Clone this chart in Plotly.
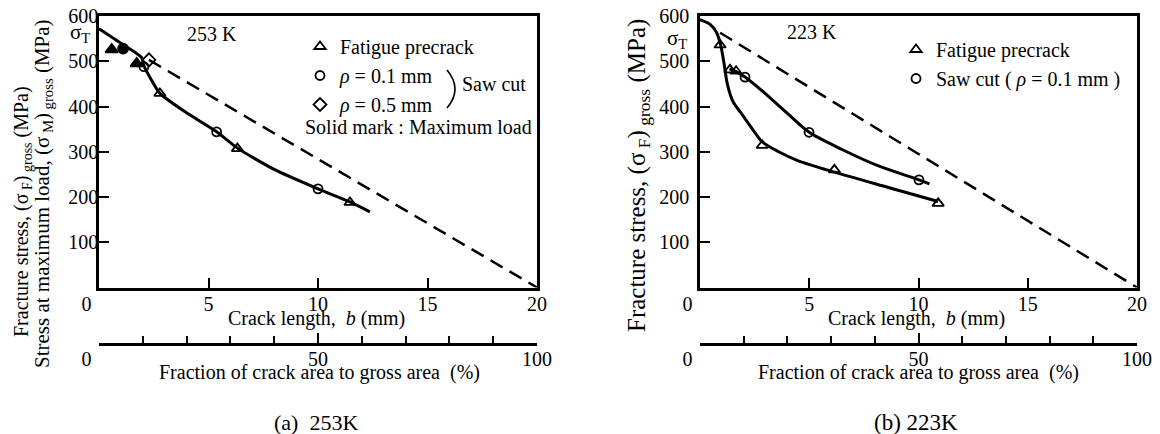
import plotly.graph_objects as go

W, H = 1160, 434
FONT = "Liberation Serif, Times New Roman, serif"

# ---------------- data: (a) 253 K ----------------
a_tri_x = [2.78, 6.32, 11.46]
a_tri_y = [429, 307, 188]
a_cir_x = [2.05, 5.37, 10.0]
a_cir_y = [488, 344, 218]
a_dia_x = [2.28]
a_dia_y = [503]
a_tri_max_x = [0.58, 1.72]
a_tri_max_y = [526, 495]
a_cir_max_x = [1.1]
a_cir_max_y = [528]
a_curve_x = [0, 1.0, 1.95, 2.05, 2.4, 2.78, 4.0, 5.37, 6.32, 8.0, 10.0, 11.46, 12.37]
a_curve_y = [572, 540, 508, 490, 458, 429, 386, 344, 308, 261, 218, 189, 167]
a_dash_x = [2.28, 20]
a_dash_y = [503, 0]
a_sigma_T = 572

# ---------------- data: (b) 223 K ----------------
b_tri_x = [0.92, 1.37, 1.65, 2.85, 6.15, 10.9]
b_tri_y = [536, 481, 478, 314, 260, 186]
b_cir_x = [2.06, 4.99, 10.02]
b_cir_y = [465, 343, 238]
b_fat_x = [0, 0.45, 0.75, 0.95, 1.1, 1.25, 1.5, 1.9, 2.4, 2.85, 3.6, 4.5, 6.15, 8.7, 10.9]
b_fat_y = [592, 582, 564, 535, 495, 450, 412, 384, 350, 322, 300, 280, 255, 220, 190]
b_saw_x = [1.35, 1.65, 2.06, 3.0, 4.0, 5.0, 6.5, 8.2, 10.02, 10.5]
b_saw_y = [483, 477, 465, 428, 385, 343, 305, 268, 238, 229]
b_dash_x = [0.92, 20]
b_dash_y = [563, 0]
b_sigma_T = 592

# ---------------- axes values / labels ----------------
crack_ticks = [0, 5, 10, 15, 20]
crack_text = ["0" + "\u00a0" * 5, "5", "10", "15", "20"]
frac_major = [0, 50, 100]
frac_text = ["0" + "\u00a0" * 5, "50", "100"]
stress_ticks = [100, 200, 300, 400, 500, 600]

legend_a = ["Fatigue precrack", "<i>ρ</i> = 0.1 mm", "<i>ρ</i> = 0.5 mm"]
legend_b = ["Fatigue precrack", "Saw cut ( <i>ρ</i> = 0.1 mm )"]


def px(x):
    return x / W


def py(y):
    return 1 - y / H


fig = go.Figure()

LW = 3
MK = dict(size=10, color="black", line=dict(width=1.8, color="black"))


def marker(symbol, size=10):
    d = dict(MK)
    d["symbol"] = symbol
    d["size"] = size
    return d


# ---- panel a ----
fig.add_trace(go.Scatter(x=a_dash_x, y=a_dash_y, mode="lines", xaxis="x", yaxis="y",
                         line=dict(color="black", width=2.5, dash="14px,8px"), showlegend=False))
fig.add_trace(go.Scatter(x=a_curve_x, y=a_curve_y, mode="lines", xaxis="x", yaxis="y",
                         line=dict(color="black", width=LW, shape="spline", smoothing=0.6),
                         showlegend=False))
fig.add_trace(go.Scatter(x=a_tri_x, y=a_tri_y, mode="markers", xaxis="x", yaxis="y",
                         marker=marker("triangle-up-open"), name=legend_a[0], legend="legend"))
fig.add_trace(go.Scatter(x=a_cir_x, y=a_cir_y, mode="markers", xaxis="x", yaxis="y",
                         marker=marker("circle-open", 9), name=legend_a[1], legend="legend"))
fig.add_trace(go.Scatter(x=a_dia_x, y=a_dia_y, mode="markers", xaxis="x", yaxis="y",
                         marker=marker("diamond-open", 10), name=legend_a[2], legend="legend"))
fig.add_trace(go.Scatter(x=a_tri_max_x, y=a_tri_max_y, mode="markers", xaxis="x", yaxis="y",
                         marker=marker("triangle-up", 11), showlegend=False))
fig.add_trace(go.Scatter(x=a_cir_max_x, y=a_cir_max_y, mode="markers", xaxis="x", yaxis="y",
                         marker=marker("circle", 10), showlegend=False))

# ---- panel b ----
fig.add_trace(go.Scatter(x=b_dash_x, y=b_dash_y, mode="lines", xaxis="x2", yaxis="y2",
                         line=dict(color="black", width=2.5, dash="14px,8px"), showlegend=False))
fig.add_trace(go.Scatter(x=b_fat_x, y=b_fat_y, mode="lines", xaxis="x2", yaxis="y2",
                         line=dict(color="black", width=LW, shape="spline", smoothing=0.8),
                         showlegend=False))
fig.add_trace(go.Scatter(x=b_saw_x, y=b_saw_y, mode="lines", xaxis="x2", yaxis="y2",
                         line=dict(color="black", width=LW, shape="spline", smoothing=0.8),
                         showlegend=False))
fig.add_trace(go.Scatter(x=b_tri_x, y=b_tri_y, mode="markers", xaxis="x2", yaxis="y2",
                         marker=marker("triangle-up-open"), name=legend_b[0], legend="legend2"))
fig.add_trace(go.Scatter(x=b_cir_x, y=b_cir_y, mode="markers", xaxis="x2", yaxis="y2",
                         marker=marker("circle-open", 9), name=legend_b[1], legend="legend2"))

# ---- fraction axes (invisible carrier traces) ----
for xa, ya in (("x3", "y3"), ("x4", "y4")):
    fig.add_trace(go.Scatter(x=frac_major, y=[0] * len(frac_major), mode="markers",
                             xaxis=xa, yaxis=ya, marker=dict(opacity=0, size=1),
                             hoverinfo="skip", showlegend=False))

tickfont = dict(family=FONT, size=20, color="black")

xa_dom = [px(99), px(537)]
xb_dom = [px(700), px(1137)]
y_dom = [py(287.5), py(16)]
fy = py(343)
f_dom = [fy, fy + 0.02]


def main_x(dom, anchor):
    return dict(domain=dom, anchor=anchor, range=[0, 20], tickvals=crack_ticks, ticktext=crack_text,
                ticks="inside", ticklen=10, tickwidth=2, tickcolor="black", automargin=False,
                showline=True, linewidth=2.6, linecolor="black", mirror=True,
                showgrid=False, zeroline=False, tickfont=tickfont, ticklabelstandoff=-3)


def main_y(anchor, standoff):
    return dict(domain=y_dom, anchor=anchor, range=[0, 600], tickvals=stress_ticks,
                ticks="inside", ticklen=10, tickwidth=2.4, tickcolor="black", automargin=False,
                showline=True, linewidth=2.6, linecolor="black", mirror=True,
                showgrid=False, zeroline=False, tickfont=tickfont, ticklabelstandoff=standoff)


def frac_x(dom, anchor):
    return dict(domain=dom, anchor=anchor, range=[0, 100], tickvals=frac_major, ticktext=frac_text,
                ticks="inside", ticklen=10, tickwidth=2, tickcolor="black", automargin=False,
                minor=dict(dtick=10, ticks="inside", ticklen=7, tickwidth=1.6, tickcolor="black"),
                showline=True, linewidth=2.6, linecolor="black",
                showgrid=False, zeroline=False, tickfont=tickfont, ticklabelstandoff=-4)


def frac_y(anchor):
    return dict(domain=f_dom, anchor=anchor, visible=False, range=[0, 1], automargin=False)


ann = []


def text(x, y, s, size=20, xanchor="center", angle=0):
    ann.append(dict(x=px(x), y=py(y), xref="paper", yref="paper", text=s, showarrow=False,
                    xanchor=xanchor, yanchor="middle", textangle=angle,
                    font=dict(family=FONT, size=size, color="black")))


# panel a texts
text(212, 34, "253 K")
text(460, 84, "Saw cut", xanchor="left")
text(303, 127, "Solid mark : Maximum load", xanchor="left")
text(80, 33, "σ<sub>T</sub>", size=21)
text(316, 318, "Crack length,  <i>b</i> (mm)")
text(319, 372, "Fraction of crack area to gross area  (%)")
text(316, 422, "(a)\u00a0\u00a0253K", size=22)
text(22, 212, "Fracture stress, (σ<sub> F</sub>)<sub> gross</sub> (MPa)", angle=-90)
text(43, 194, "Stress at maximum load, (σ<sub> M</sub>)<sub> gross</sub> (MPa)", size=21, angle=-90)

# panel b texts
text(812, 32, "223 K")
text(677, 39, "σ<sub>T</sub>", size=21)
text(916, 318, "Crack length,  <i>b</i> (mm)")
text(918, 372, "Fraction of crack area to gross area  (%)")
text(916, 422, "(b) 223K", size=23)
text(638, 176, "Fracture stress, (σ<sub> F</sub>)<sub> gross</sub> (MPa)", size=25, angle=-90)

shapes = [
    # leader lines from the sigma_T labels to the curve start
    dict(type="line", xref="x", yref="y", xsizemode="pixel", ysizemode="pixel",
         xanchor=0, yanchor=a_sigma_T, x0=-13, y0=-12, x1=0, y1=0,
         line=dict(color="black", width=1.5)),
    dict(type="line", xref="x2", yref="y2", xsizemode="pixel", ysizemode="pixel",
         xanchor=0, yanchor=b_sigma_T, x0=-12, y0=-17, x1=0, y1=0,
         line=dict(color="black", width=1.5)),
    # bracket grouping the two saw-cut entries
    dict(type="path", xref="paper", yref="paper",
         path=f"M {px(447)},{py(70)} Q {px(463)},{py(89)} {px(447)},{py(108)}",
         line=dict(color="black", width=1.6)),
]

legend_common = dict(font=dict(family=FONT, size=20, color="black"), bgcolor="rgba(0,0,0,0)",
                     xanchor="left", yanchor="top", tracegroupgap=0, borderwidth=0)

fig.update_layout(
    template="none",
    width=W, height=H, margin=dict(l=0, r=0, t=0, b=0, autoexpand=False),
    paper_bgcolor="white", plot_bgcolor="white",
    font=dict(family=FONT, color="black"),
    xaxis=main_x(xa_dom, "y"), yaxis=main_y("x", -6),
    xaxis2=main_x(xb_dom, "y2"), yaxis2=main_y("x2", 4),
    xaxis3=frac_x(xa_dom, "y3"), yaxis3=frac_y("x3"),
    xaxis4=frac_x(xb_dom, "y4"), yaxis4=frac_y("x4"),
    legend=dict(x=px(300), y=py(27), **legend_common),
    legend2=dict(x=px(896), y=py(30), **legend_common),
    annotations=ann, shapes=shapes, showlegend=True,
)

fig.write_html("out.html", config={"displayModeBar": False},
               post_script="document.body.style.margin='0px';document.body.style.overflow='hidden';")
